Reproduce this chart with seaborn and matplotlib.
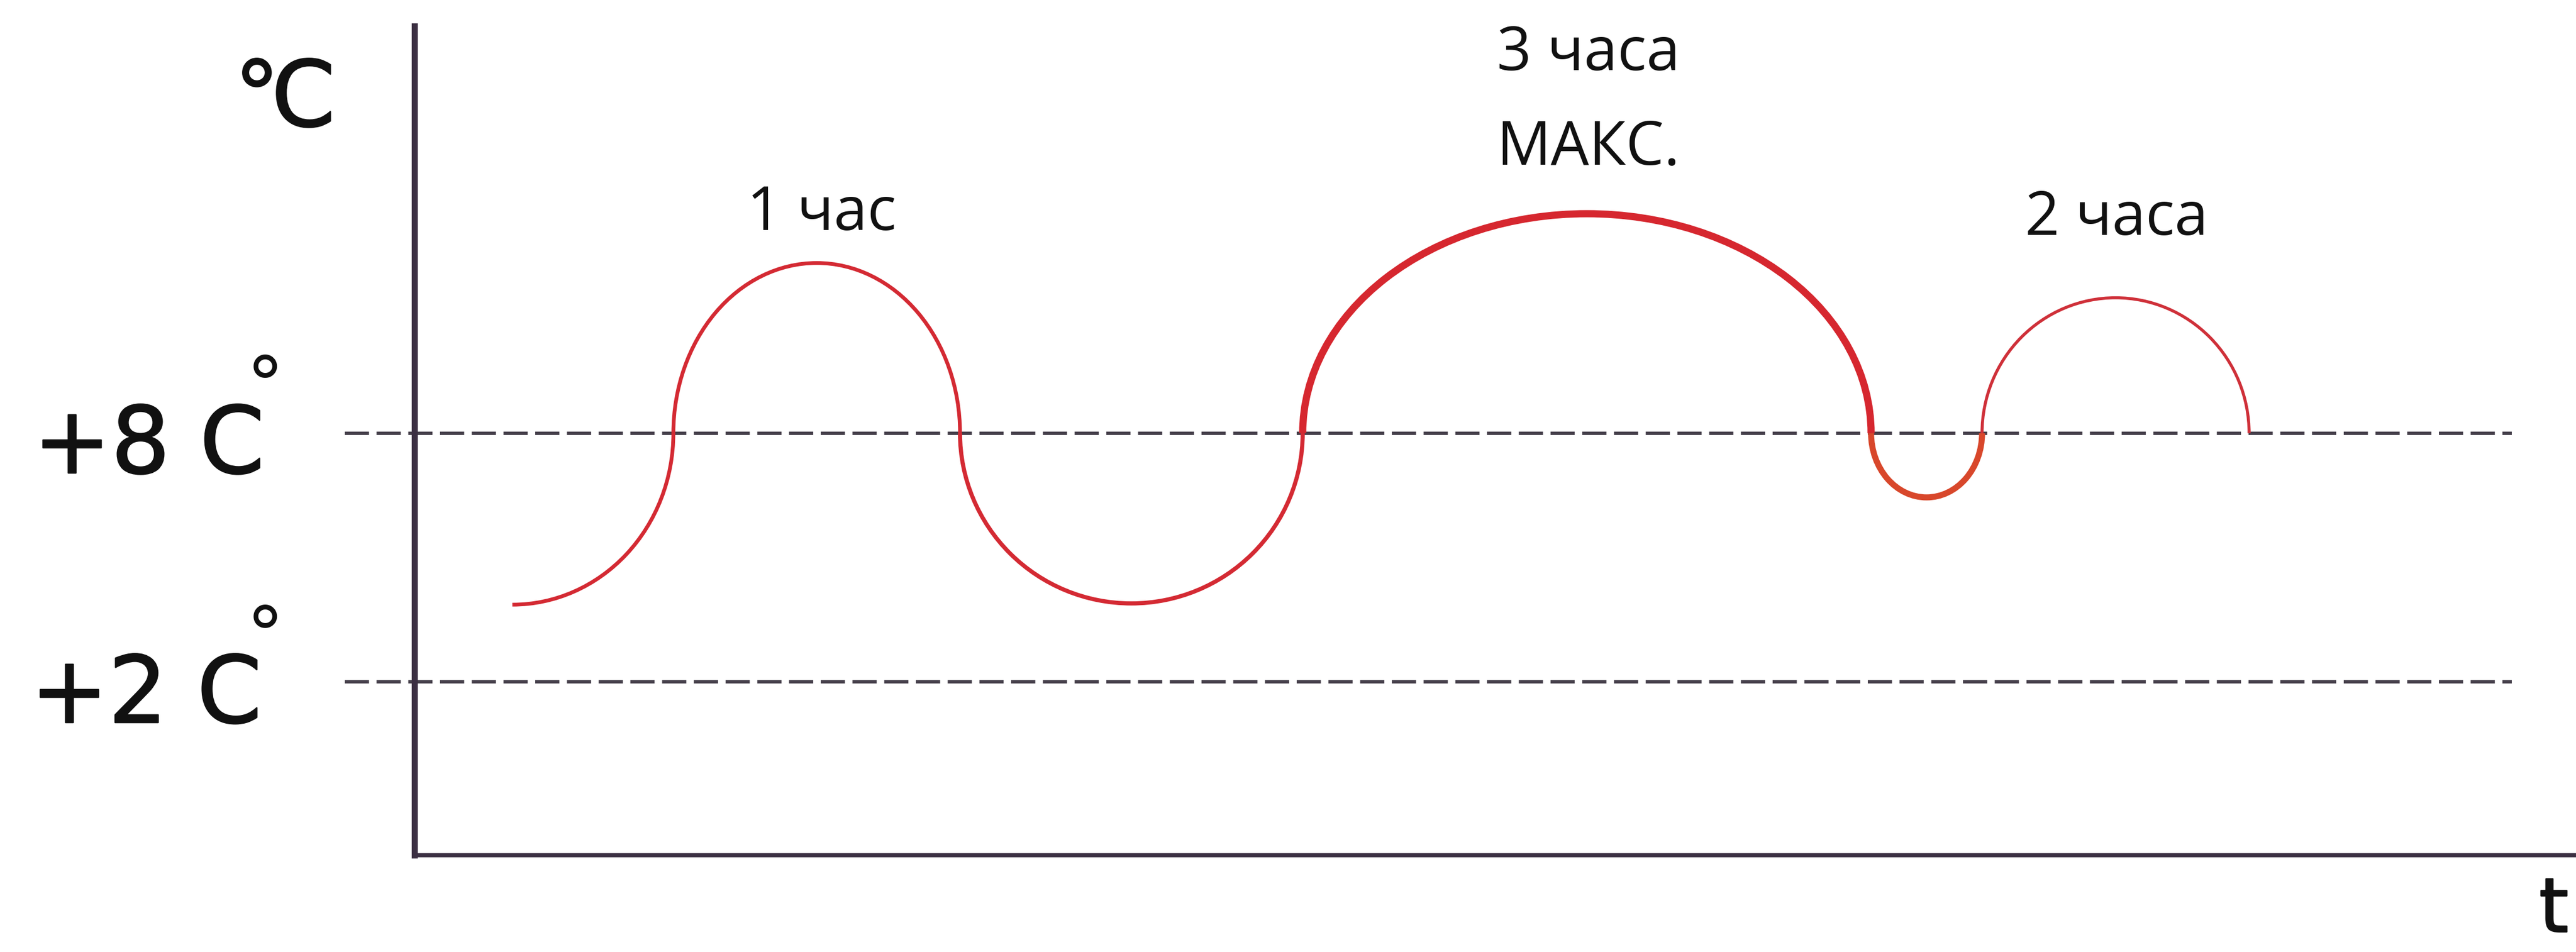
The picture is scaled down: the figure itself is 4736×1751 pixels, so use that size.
import matplotlib
matplotlib.use("Agg")
import matplotlib.pyplot as plt
import matplotlib.patheffects as pe
from matplotlib.patches import Arc
import seaborn as sns

# --- data (x: time, arbitrary units; y: temperature, °C) ---
limits = [8, 2]                      # dashed threshold lines
limit_labels = ["+8 C", "+2 C"]
cross_x = [1.80, 4.76, 10.03, 16.33, 26.78, 28.82, 33.73]   # start + crossings of +8
extremes = [3.86, 12.11, 3.89, 13.30, 6.45, 11.27]          # lowest / highest point per arc
arc_colors = ["#d42a33", "#d42a33", "#d42a33", "#d6272f", "#d8472b", "#cf3039"]
arc_widths = [5.0, 5.0, 5.5, 9.5, 8.0, 4.0]                  # points
peak_labels = ["1 час", "3 часа", "МАКС.", "2 часа"]

sns.set_theme(style="white")
plt.rcParams["lines.scale_dashes"] = False

W, H, DPI = 4736, 1751, 100
fig = plt.figure(figsize=(W / DPI, H / DPI), dpi=DPI)
fig.patch.set_facecolor("white")

ax_left = 762 / W
ax_bottom, ax_top = 1 - 1573 / H, 1 - 48 / H
ax = fig.add_axes([ax_left, ax_bottom, 1 - ax_left, ax_top - ax_bottom])
ax.set_facecolor("white")
ax.set_xlim(0, 39.74)
ax.set_ylim(-2.19, 17.83)
ax.set_xticks([])
ax.set_yticks([])
sns.despine(ax=ax, top=True, right=True)
ax.spines["left"].set_linewidth(8.0)
ax.spines["bottom"].set_linewidth(5.5)
ax.spines["left"].set_color("#3b2f42")
ax.spines["bottom"].set_color("#3b2f42")

# dashed threshold lines (extend left of the y axis)
for lim in limits:
    ax.axhline(lim, xmin=(634 - 762) / (W - 762), xmax=(4618 - 762) / (W - 762),
               color="#453f4a", lw=4.5, ls=(0, (32, 10)), clip_on=False, zorder=1)

# temperature curve: elliptic arcs between crossings of the +8 line
base = limits[0]
for i, ext in enumerate(extremes):
    x0, x1 = cross_x[i], cross_x[i + 1]
    h = 2 * abs(ext - base)
    if i == 0:
        # quarter arc: starts at its lowest point, vertical when reaching +8
        arc = Arc((x0, base), 2 * (x1 - x0), h, theta1=270, theta2=360)
    elif ext > base:
        arc = Arc(((x0 + x1) / 2, base), x1 - x0, h, theta1=0, theta2=180)
    else:
        arc = Arc(((x0 + x1) / 2, base), x1 - x0, h, theta1=180, theta2=360)
    arc.set_edgecolor(arc_colors[i])
    arc.set_linewidth(arc_widths[i])
    arc.set_zorder(3)
    ax.add_patch(arc)

# labels above the bumps
label_font = ["Open Sans", "DejaVu Sans"]
label_pos = [(1510, 423), (2920, 129), (2920, 303), (3891, 432)]
for txt, (px, py) in zip(peak_labels, label_pos):
    fig.text(px / W, 1 - py / H, txt, ha="center", va="baseline",
             fontsize=80, family=label_font, color="#111111")

# y-axis labels (a touch heavier than DejaVu regular)
big_font = ["DejaVu Sans"]
heavy = [pe.withStroke(linewidth=1.8, foreground="#111111")]
fig.text(61 / W, 1 - 870 / H, limit_labels[0], ha="left", va="baseline",
         fontsize=123, family=big_font, color="#111111", path_effects=heavy)
fig.text(56 / W, 1 - 1329 / H, limit_labels[1], ha="left", va="baseline",
         fontsize=123, family=big_font, color="#111111", path_effects=heavy)
fig.text(487 / W, 1 - 755 / H, "°", ha="center", va="baseline",
         fontsize=100, family=big_font, color="#111111")
fig.text(487 / W, 1 - 1215 / H, "°", ha="center", va="baseline",
         fontsize=100, family=big_font, color="#111111")
fig.text(619 / W, 1 - 232 / H, "℃", ha="right", va="baseline",
         fontsize=121, family=big_font, color="#111111", path_effects=heavy)
fig.text(4668 / W, 1 - 1714 / H, "t", ha="left", va="baseline",
         fontsize=100, family=big_font, color="#111111", path_effects=heavy)

fig.savefig("out.png", dpi=DPI, facecolor="white")
